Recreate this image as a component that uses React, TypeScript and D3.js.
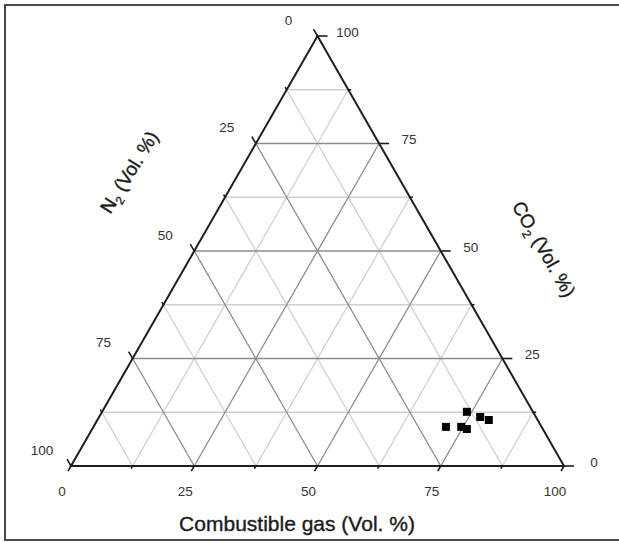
import React from "react";
import * as d3 from "d3";

// Gas composition samples (Vol. %): combustible gas, N2, CO2
const combustible = [74.0, 77.3, 79.4, 71.5, 74.6, 76.0];
const nitrogen = [13.4, 11.3, 9.9, 19.4, 16.3, 15.4];
const carbonDioxide = [12.6, 11.4, 10.7, 9.1, 9.1, 8.6];

const tickValues = [0, 25, 50, 75, 100];
const gridValues = [12.5, 25, 37.5, 50, 62.5, 75, 87.5];

const W = 619;
const H = 543;

// Horizontal position follows combustible + CO2/2, vertical follows CO2
const xs = d3.scaleLinear().domain([0, 100]).range([71, 564]);
const ys = d3.scaleLinear().domain([0, 100]).range([466, 36]);

const pt = (comb: number, co2: number): [number, number] => [xs(comb + co2 / 2), ys(co2)];

const line = d3.line<[number, number]>();

export default function App() {
  const isMajor = (v: number) => v % 25 === 0;

  const grid: { d: string; major: boolean }[] = [];
  gridValues.forEach((v) => {
    // constant CO2
    grid.push({ d: line([pt(0, v), pt(100 - v, v)])!, major: isMajor(v) });
    // constant combustible gas
    grid.push({ d: line([pt(v, 0), pt(v, 100 - v)])!, major: isMajor(v) });
    // constant N2
    grid.push({ d: line([pt(100 - v, 0), pt(0, 100 - v)])!, major: isMajor(v) });
  });
  grid.sort((a, b) => Number(a.major) - Number(b.major));

  const top = pt(0, 100);
  const bl = pt(0, 0);
  const br = pt(100, 0);

  const c60 = Math.cos(Math.PI / 3);
  const s60 = Math.sin(Math.PI / 3);

  const allTicks = d3.range(0, 100.01, 12.5);

  const font = "'Liberation Sans', Arial, sans-serif";
  const tickSize = 13.5;
  const titleProps = {
    fill: "#1a1a1a",
    stroke: "#1a1a1a",
    strokeWidth: 0.35,
  };

  return (
    <svg
      width={W}
      height={H}
      style={{ position: "absolute", left: 0, top: 0, background: "#fff" }}
      fontFamily={font}
    >
      <rect x={5} y={5} width={640} height={535} fill="#fff" stroke="#4a4a4a" strokeWidth={2} />

      {/* grid */}
      {grid.map((g, i) => (
        <path
          key={i}
          d={g.d}
          stroke={g.major ? "#8c8c8c" : "#cfcfcf"}
          strokeWidth={1.3}
          fill="none"
        />
      ))}

      {/* triangle frame */}
      <path
        d={line([bl, top, br, bl])! + "Z"}
        fill="none"
        stroke="#1e1e1e"
        strokeWidth={2}
        strokeLinejoin="miter"
      />

      {/* CO2 ticks (right edge, horizontal) */}
      {allTicks.map((v) => {
        const [x, y] = pt(100 - v, v);
        const len = isMajor(v) ? 10 : 3;
        return <line key={"r" + v} x1={x} y1={y} x2={x + len} y2={y} stroke="#1e1e1e" strokeWidth={1.6} />;
      })}
      {/* N2 ticks (left edge, up-left) */}
      {allTicks.map((v) => {
        const [x, y] = pt(0, 100 - v);
        const len = isMajor(v) ? 8 : 3;
        return (
          <line key={"l" + v} x1={x} y1={y} x2={x - len * c60} y2={y - len * s60} stroke="#1e1e1e" strokeWidth={1.6} />
        );
      })}
      {/* combustible ticks (base, down-left) */}
      {allTicks.map((v) => {
        const [x, y] = pt(v, 0);
        const len = isMajor(v) ? 6 : 3;
        return (
          <line key={"b" + v} x1={x} y1={y} x2={x - len * c60} y2={y + len * s60} stroke="#1e1e1e" strokeWidth={1.6} />
        );
      })}

      {/* tick labels */}
      {tickValues.map((v) => {
        const [x, y] = pt(v, 0);
        return (
          <text key={"bt" + v} x={x - 9} y={y + 25} dy="0.35em" textAnchor="middle" fontSize={tickSize} fill="#333">
            {v}
          </text>
        );
      })}
      {tickValues.map((v) => {
        const [x, y] = pt(0, 100 - v);
        return (
          <text key={"lt" + v} x={x - 29} y={y - 16} dy="0.35em" textAnchor="middle" fontSize={tickSize} fill="#333">
            {v}
          </text>
        );
      })}
      {tickValues.map((v) => {
        const [x, y] = pt(100 - v, v);
        return (
          <text key={"rt" + v} x={x + 30} y={y - 4} dy="0.35em" textAnchor="middle" fontSize={tickSize} fill="#333">
            {v}
          </text>
        );
      })}

      {/* axis titles */}
      <text x={297} y={524} dy="0.35em" textAnchor="middle" fontSize={21} {...titleProps}>
        Combustible gas (Vol. %)
      </text>
      <text transform="translate(129,172) rotate(-58)" dy="0.35em" textAnchor="middle" fontSize={19} {...titleProps}>
        N<tspan fontSize={12} dy="5">2</tspan>
        <tspan dy="-5"> (Vol. %)</tspan>
      </text>
      <text transform="translate(544,249) rotate(60)" dy="0.35em" textAnchor="middle" fontSize={19} {...titleProps}>
        CO<tspan fontSize={12} dy="5">2</tspan>
        <tspan dy="-5"> (Vol. %)</tspan>
      </text>

      {/* samples */}
      {combustible.map((c, i) => {
        const [x, y] = pt(c, carbonDioxide[i]);
        return <rect key={"p" + i} x={x - 4} y={y - 4} width={8} height={8} fill="#000" />;
      })}
    </svg>
  );
}
